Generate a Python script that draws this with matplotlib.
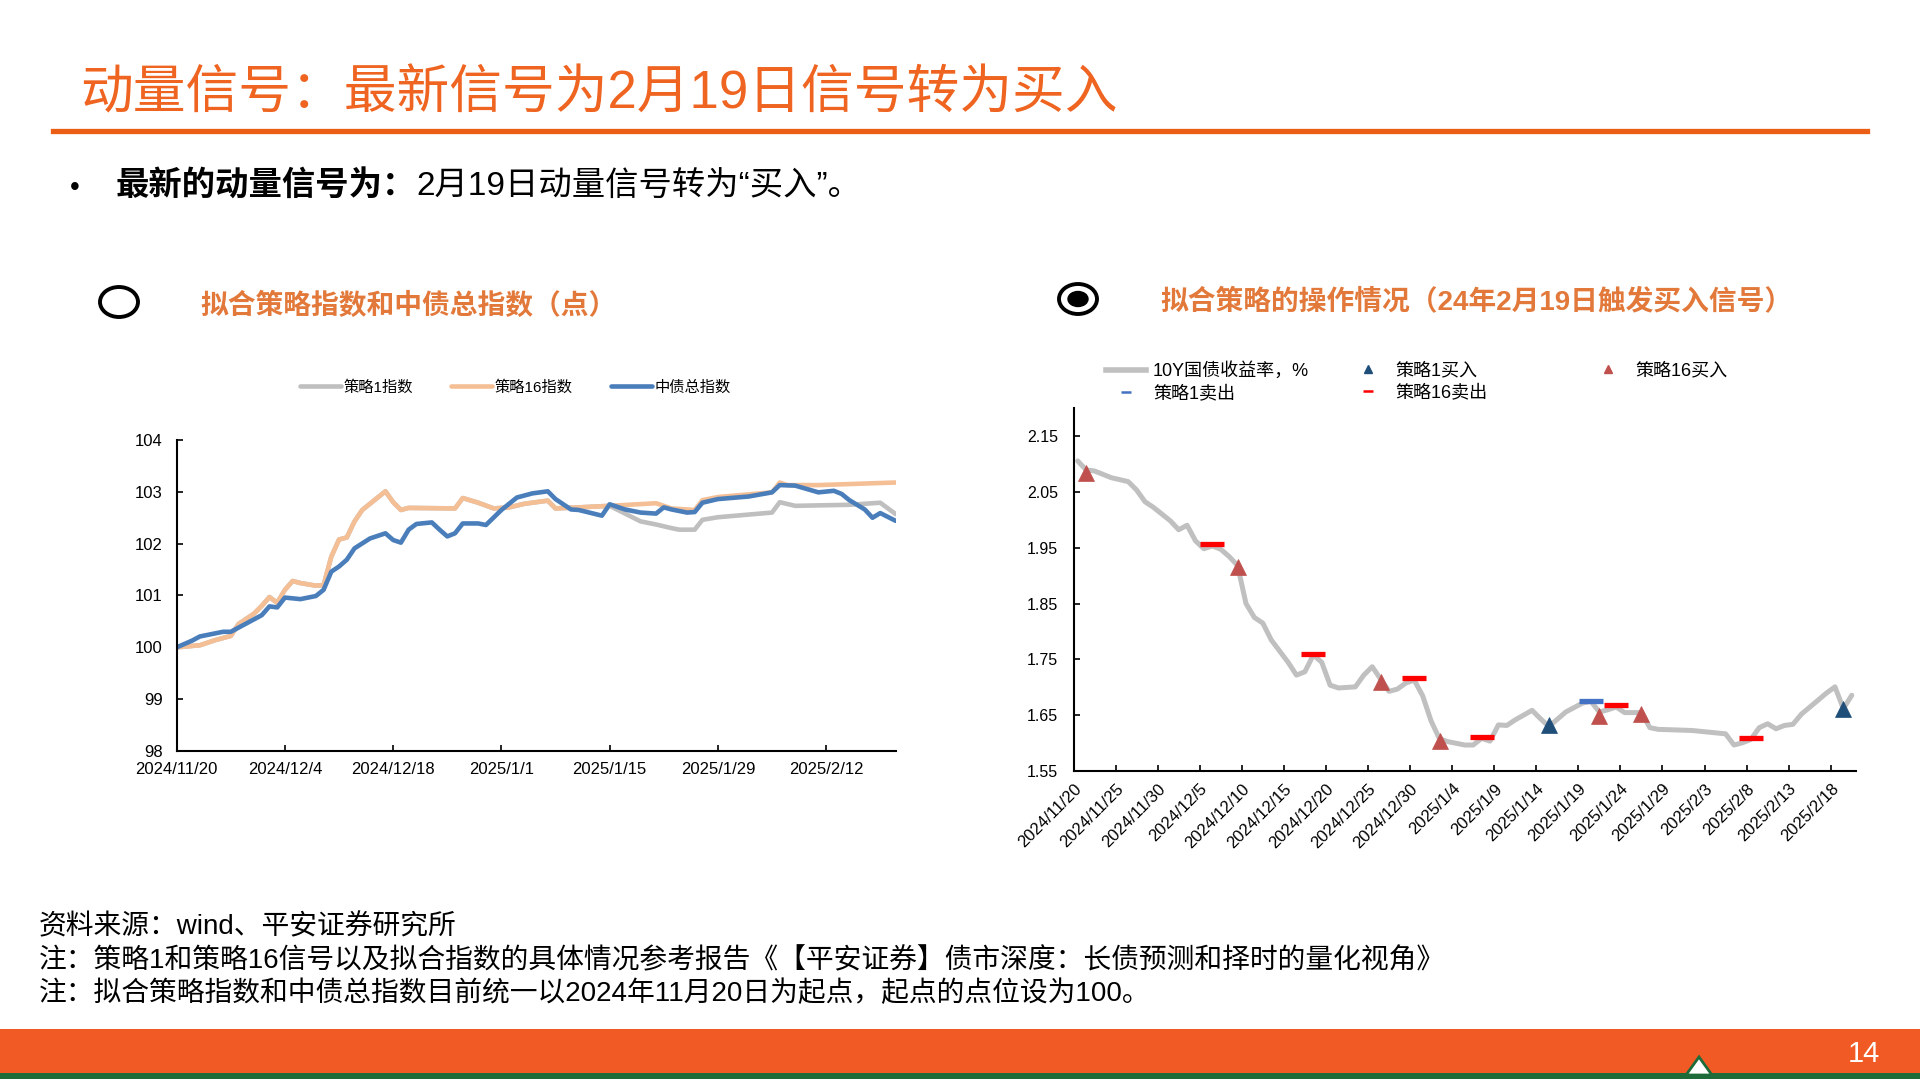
"""
Momentum signal slide: fitted strategy indices vs the ChinaBond composite index
(left) and the 10Y CGB yield with strategy buy / sell points (right).
"""

import matplotlib.pyplot as plt
import matplotlib.dates as mdates
from matplotlib.lines import Line2D
from matplotlib.patches import Ellipse, Polygon, Rectangle
from matplotlib.ticker import FuncFormatter, FormatStrFormatter
import pandas as pd

plt.rcParams["font.family"] = ["Liberation Sans", "Noto Sans CJK SC"]

W, H = 1920, 1080
START = pd.Timestamp("2024-11-20")

TITLE_ORANGE = "#EE6420"
SUB_ORANGE = "#E2793A"
BAR_ORANGE = "#F15A24"

# ---- left chart: index levels, x = days since 2024/11/20 ----
bond_days = [0, 2, 3, 6, 7, 9, 11, 12, 13, 14, 16, 18, 19, 20, 21, 22, 23, 25, 27, 28,
             29, 30, 31, 33, 34, 35, 36, 37, 39, 40, 42, 44, 46, 48, 49, 51, 52, 55, 56, 58,
             60, 62, 63, 64, 66, 67, 68, 70, 74, 77, 78, 80, 83, 85, 86, 87, 89, 90, 91, 93]
bond_index = [100.00, 100.13, 100.21, 100.30, 100.30, 100.46, 100.62, 100.79, 100.77, 100.96,
              100.93, 100.99, 101.11, 101.46, 101.56, 101.69, 101.91, 102.10, 102.20, 102.07,
              102.02, 102.27, 102.38, 102.41, 102.27, 102.14, 102.20, 102.39, 102.39, 102.36,
              102.65, 102.89, 102.97, 103.01, 102.86, 102.66, 102.65, 102.54, 102.76, 102.66,
              102.60, 102.58, 102.70, 102.66, 102.60, 102.61, 102.79, 102.86, 102.91, 102.99,
              103.13, 103.12, 102.99, 103.02, 102.96, 102.84, 102.66, 102.50, 102.59, 102.44]

s16_days = [0, 3, 5, 7, 8, 10, 11, 12, 13, 14, 15, 16, 18, 19, 20, 21, 22, 23, 24, 27,
            28, 29, 30, 36, 37, 39, 41, 43, 45, 48, 49, 52, 56, 62, 64, 67, 68, 70, 77, 78,
            79, 83, 93]
s16_index = [100.00, 100.04, 100.14, 100.22, 100.45, 100.65, 100.80, 100.97, 100.86, 101.11,
             101.28, 101.24, 101.19, 101.20, 101.75, 102.08, 102.12, 102.43, 102.65, 103.01,
             102.80, 102.65, 102.69, 102.68, 102.88, 102.79, 102.68, 102.70, 102.77, 102.83,
             102.68, 102.70, 102.73, 102.78, 102.68, 102.65, 102.84, 102.90, 102.99, 103.18,
             103.13, 103.13, 103.18]

s1_days = [0, 3, 5, 7, 8, 10, 11, 12, 13, 14, 15, 16, 18, 19, 20, 21, 22, 23, 24, 27,
           28, 29, 30, 36, 37, 39, 41, 43, 45, 48, 49, 52, 56, 58, 60, 62, 64, 65, 67, 68,
           70, 77, 78, 80, 87, 91, 93]
s1_index = [100.00, 100.04, 100.14, 100.22, 100.45, 100.65, 100.80, 100.97, 100.86, 101.11,
            101.28, 101.24, 101.19, 101.20, 101.75, 102.08, 102.12, 102.43, 102.65, 103.01,
            102.80, 102.65, 102.69, 102.68, 102.88, 102.79, 102.68, 102.70, 102.77, 102.83,
            102.68, 102.70, 102.73, 102.58, 102.43, 102.37, 102.30, 102.27, 102.27, 102.46,
            102.51, 102.60, 102.80, 102.73, 102.75, 102.79, 102.57]

# ---- right chart: 10Y yield (%) and signals, x = days since 2024/11/20 ----
yield_days = [0, 1, 2, 4, 6, 7, 8, 9, 11, 12, 13, 14, 15, 16, 17, 18, 19, 20, 21, 22,
              23, 24, 25, 26, 27, 28, 29, 30, 31, 33, 34, 35, 36, 37, 38, 39, 40, 41, 42, 43,
              44, 46, 47, 48, 49, 50, 51, 52, 54, 55, 56, 58, 60, 61, 62, 63, 64, 65, 67, 68,
              69, 73, 77, 78, 79, 80, 81, 82, 83, 84, 85, 86, 89, 90, 91, 92]
yield_10y = [2.105, 2.089, 2.087, 2.075, 2.068, 2.053, 2.032, 2.022, 1.998, 1.982,
             1.990, 1.962, 1.948, 1.953, 1.947, 1.934, 1.918, 1.850, 1.825, 1.815,
             1.785, 1.765, 1.745, 1.722, 1.728, 1.758, 1.745, 1.704, 1.699, 1.701,
             1.722, 1.737, 1.715, 1.693, 1.697, 1.708, 1.713, 1.685, 1.640, 1.608,
             1.603, 1.597, 1.597, 1.609, 1.604, 1.633, 1.632, 1.642, 1.659, 1.644,
             1.630, 1.656, 1.672, 1.675, 1.656, 1.660, 1.665, 1.655, 1.655, 1.628,
             1.625, 1.623, 1.617, 1.597, 1.601, 1.607, 1.628, 1.635, 1.626, 1.632,
             1.634, 1.652, 1.690, 1.701, 1.662, 1.686]

s1_buy_days = [56, 91]
s1_buy_val = [1.632, 1.662]
s16_buy_days = [1, 19, 36, 43, 62, 67]
s16_buy_val = [2.083, 1.916, 1.710, 1.604, 1.649, 1.653]
s1_sell_days = [61]
s1_sell_val = [1.675]
s16_sell_days = [16, 28, 40, 48, 64, 80]
s16_sell_val = [1.957, 1.759, 1.716, 1.612, 1.668, 1.609]

left_legend = ["策略1指数", "策略16指数", "中债总指数"]
right_legend = ["10Y国债收益率，%", "策略1卖出", "策略1买入", "策略16卖出", "策略16买入"]

title = "动量信号：最新信号为2月19日信号转为买入"
bullet_bold = "最新的动量信号为："
bullet_rest = "2月19日动量信号转为“买入”。"
left_title = "拟合策略指数和中债总指数（点）"
right_title = "拟合策略的操作情况（24年2月19日触发买入信号）"
notes = [
    "资料来源：wind、平安证券研究所",
    "注：策略1和策略16信号以及拟合指数的具体情况参考报告《【平安证券】债市深度：长债预测和择时的量化视角》",
    "注：拟合策略指数和中债总指数目前统一以2024年11月20日为起点，起点的点位设为100。",
]


def fx(px):
    return px / W


def fy(px):
    return 1 - px / H


def to_dates(days, shift_hours=0):
    return START + pd.to_timedelta(days, unit="D") + pd.Timedelta(hours=shift_hours)


def date_label(x, pos):
    d = mdates.num2date(x)
    return f"{d.year}/{d.month}/{d.day}"


def style_axes(ax, labelsize, xpad, ypad):
    for side in ("top", "right"):
        ax.spines[side].set_visible(False)
    for side in ("left", "bottom"):
        ax.spines[side].set_linewidth(1.5)
        ax.spines[side].set_color("black")
    ax.tick_params(direction="in", length=4, width=1.2, labelsize=labelsize)
    ax.tick_params(axis="x", pad=xpad)
    ax.tick_params(axis="y", pad=ypad)
    ax.xaxis.set_major_formatter(FuncFormatter(date_label))


def draw_header(fig):
    fig.text(fx(80), fy(94), title, fontsize=38, color=TITLE_ORANGE, va="center", ha="left")
    fig.add_artist(Line2D([fx(53), fx(1867)], [fy(131), fy(131)], color="#EA5E16", lw=3.8))

    fig.text(fx(70), fy(188), "•", fontsize=20, va="center", ha="left")
    t = fig.text(fx(116), fy(187), bullet_bold, fontsize=24, fontweight="bold",
                 va="center", ha="left")
    bb = t.get_window_extent(renderer=fig.canvas.get_renderer())
    fig.text(bb.x1 / fig.bbox.width, fy(187), bullet_rest, fontsize=24, va="center", ha="left")

    # radio-button style markers before the two chart titles
    fig.add_artist(Ellipse((fx(119), fy(302)), 38 / W, 30 / H, fill=False,
                           edgecolor="black", lw=2.8, transform=fig.transFigure))
    fig.add_artist(Ellipse((fx(1078), fy(299)), 38 / W, 30 / H, fill=False,
                           edgecolor="black", lw=2.8, transform=fig.transFigure))
    fig.add_artist(Ellipse((fx(1078), fy(299)), 20 / W, 15 / H, color="black",
                           transform=fig.transFigure))
    fig.text(fx(200), fy(306), left_title, fontsize=20, fontweight="bold",
             color=SUB_ORANGE, va="center", ha="left")
    fig.text(fx(1160), fy(303), right_title, fontsize=20, fontweight="bold",
             color=SUB_ORANGE, va="center", ha="left")


def draw_left(fig):
    ax = fig.add_axes([fx(176.7), fy(751), fx(895.7) - fx(176.7), fy(440) - fy(751)])
    lines = []
    for days, vals, color in ((s1_days, s1_index, "#BFBFBF"),
                              (s16_days, s16_index, "#F5BF96"),
                              (bond_days, bond_index, "#4A7EBB")):
        (ln,) = ax.plot(to_dates(days), vals, color=color, lw=3.3,
                        solid_joinstyle="round", solid_capstyle="round")
        lines.append(ln)

    ax.set_xlim(START, START + pd.Timedelta(days=93))
    ax.set_ylim(98, 104)
    ax.set_yticks(range(98, 105))
    ax.set_xticks(to_dates(range(0, 85, 14)))
    style_axes(ax, 12, 8, 10)

    fig.legend(lines, left_legend, loc="center", bbox_to_anchor=(fx(515), fy(387)),
               ncol=3, frameon=False, fontsize=11, handlelength=2.7,
               handletextpad=0.15, columnspacing=2.5)


def draw_right(fig):
    ax = fig.add_axes([fx(1073.5), fy(771.3), fx(1856) - fx(1073.5), fy(407.8) - fy(771.3)])
    # points sit in the middle of each day's slot, as in the source chart
    ax.plot(to_dates(yield_days, 12), yield_10y, color="#C0C0C0", lw=3.6,
            solid_joinstyle="round", solid_capstyle="round", zorder=2)
    ax.plot(to_dates(s16_sell_days, 12), s16_sell_val, ls="none", marker="_",
            ms=17, mew=3.8, color="#FF0000", zorder=3)
    ax.plot(to_dates(s1_sell_days, 12), s1_sell_val, ls="none", marker="_",
            ms=17, mew=3.8, color="#4472C4", zorder=3)
    ax.plot(to_dates(s16_buy_days, 12), s16_buy_val, ls="none", marker="^",
            ms=11, mew=0.5, color="#C0504D", zorder=4)
    ax.plot(to_dates(s1_buy_days, 12), s1_buy_val, ls="none", marker="^",
            ms=11, mew=0.5, color="#1F4E79", zorder=4)

    ax.set_xlim(START, START + pd.Timedelta(days=93))
    ax.set_ylim(1.55, 2.20)
    ax.set_yticks([1.55 + 0.1 * i for i in range(7)])
    ax.yaxis.set_major_formatter(FormatStrFormatter("%.2f"))
    ax.set_xticks(to_dates(range(0, 91, 5)))
    style_axes(ax, 11.5, 7, 11)
    ax.tick_params(axis="x", labelrotation=45, labelsize=12)
    plt.setp(ax.get_xticklabels(), ha="right", va="top", rotation_mode="anchor")

    handles = [
        Line2D([], [], color="#C0C0C0", lw=4),
        Line2D([], [], ls="none", marker="_", ms=7, mew=1.8, color="#4472C4"),
        Line2D([], [], ls="none", marker="^", ms=6, color="#1F4E79"),
        Line2D([], [], ls="none", marker="_", ms=7, mew=1.8, color="#FF0000"),
        Line2D([], [], ls="none", marker="^", ms=6, color="#C0504D"),
    ]
    groups = [(handles[0:2], right_legend[0:2], 1106),
              (handles[2:4], right_legend[2:4], 1348),
              (handles[4:5], right_legend[4:5], 1588)]
    for hs, labels, x0 in groups:
        fig.legend(hs, labels, loc="upper left", bbox_to_anchor=(fx(x0), fy(362)),
                   frameon=False, fontsize=13, handlelength=2.2, handletextpad=0.4,
                   labelspacing=0.3, borderpad=0, borderaxespad=0)


def draw_footer(fig):
    for text, y in zip(notes, (927, 961, 994)):
        fig.text(fx(39), fy(y), text, fontsize=20, va="center", ha="left")

    fig.add_artist(Rectangle((0, fy(1075)), 1, fy(1029) - fy(1075), color=BAR_ORANGE,
                             transform=fig.transFigure, lw=0))
    fig.add_artist(Rectangle((0, fy(1079)), 1, fy(1073) - fy(1079), color="#1E6B3A",
                             transform=fig.transFigure, lw=0))
    fig.add_artist(Polygon([(fx(1686), fy(1075)), (fx(1699), fy(1057)), (fx(1712), fy(1075))],
                           closed=True, facecolor="white", edgecolor="#1E6B3A", lw=2,
                           transform=fig.transFigure))
    fig.text(fx(1864), fy(1054), "14", fontsize=21, color="white", va="center", ha="center")


def main():
    fig = plt.figure(figsize=(W / 100, H / 100), dpi=100)
    fig.patch.set_facecolor("white")
    draw_header(fig)
    draw_left(fig)
    draw_right(fig)
    draw_footer(fig)
    fig.savefig("out.png", dpi=100)


if __name__ == "__main__":
    main()
